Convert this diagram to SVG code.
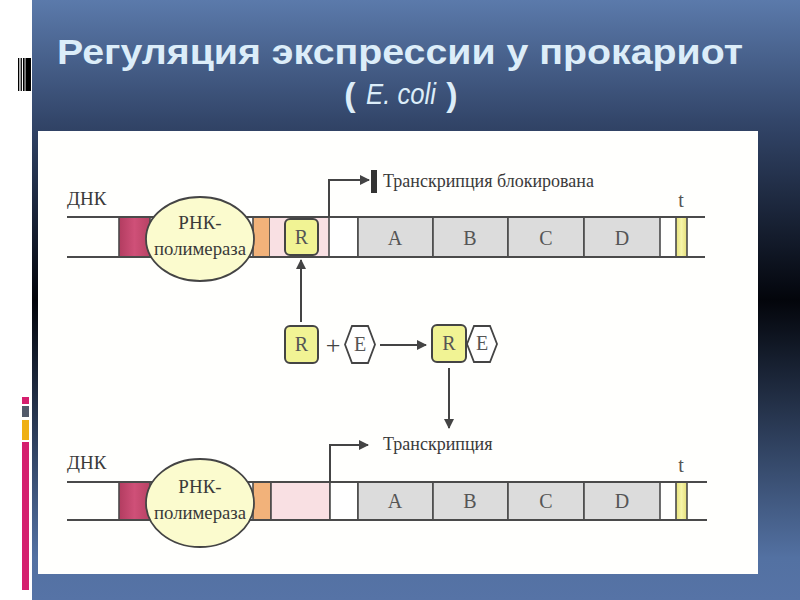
<svg xmlns="http://www.w3.org/2000/svg" width="800" height="600" viewBox="0 0 800 600">
<defs>
<linearGradient id="bg" x1="0" y1="0" x2="0" y2="1">
<stop offset="0" stop-color="#5b7aab"/>
<stop offset="0.2" stop-color="#33466a"/>
<stop offset="0.5" stop-color="#03050b"/>
<stop offset="0.93" stop-color="#5371a2"/>
<stop offset="1" stop-color="#5673a6"/>
</linearGradient>
<linearGradient id="mag" x1="0" y1="0" x2="1" y2="0">
<stop offset="0" stop-color="#b23c60"/>
<stop offset="0.5" stop-color="#cf5078"/>
<stop offset="1" stop-color="#b84264"/>
</linearGradient>
<linearGradient id="tY" x1="0" y1="0" x2="1" y2="0">
<stop offset="0" stop-color="#e8e47a"/>
<stop offset="0.5" stop-color="#f6f4a8"/>
<stop offset="1" stop-color="#e4de78"/>
</linearGradient>
<marker id="arrB" viewBox="0 0 10 10" refX="9" refY="5" markerWidth="10" markerHeight="10" markerUnits="userSpaceOnUse" orient="auto">
<path d="M0,0 L10,5 L0,10 z" fill="#444"/>
</marker>
</defs>
<style>
.ln{stroke:#4a4a4a;stroke-width:2;fill:none}
.bx{stroke:#4a4a4a;stroke-width:1.6}
.gene{fill:#dcdcdc;stroke:#4a4a4a;stroke-width:1.6}
.lab{font-family:"Liberation Serif","DejaVu Serif",serif;fill:#3a3a3a;font-size:18px}
.dnk{font-family:"Liberation Serif","DejaVu Serif",serif;fill:#3a3a3a;font-size:19px}
.glab{font-family:"Liberation Serif","DejaVu Serif",serif;fill:#555;font-size:20px;text-anchor:middle}
.plus{font-family:"Liberation Serif","DejaVu Serif",serif;fill:#444;font-size:26px;text-anchor:middle}
.plab{font-family:"Liberation Serif","DejaVu Serif",serif;fill:#3a3a3a;font-size:19px;text-anchor:middle}
.ell{fill:#fbfbce;stroke:#444;stroke-width:1.8}
.rbox{fill:#f1f394;stroke:#444;stroke-width:2}
.hex{fill:#ffffff;stroke:#444;stroke-width:1.8}
.con{stroke:#444;stroke-width:2;fill:none}
.title{font-family:"Liberation Sans","Arial",sans-serif;font-weight:bold;fill:#dcedf9}
</style>

<rect x="0" y="0" width="800" height="600" fill="#ffffff"/>
<rect x="32" y="0" width="768" height="600" fill="url(#bg)"/>
<rect x="38" y="131" width="720" height="443" fill="#fffffd"/>

<g id="decor">
<rect x="18" y="58" width="1.3" height="33" fill="#000"/>
<rect x="20.6" y="58" width="1.3" height="33" fill="#000"/>
<rect x="23" y="58" width="1.6" height="33" fill="#000"/>
<rect x="25.5" y="58" width="5.5" height="33" fill="#000"/>
<rect x="22" y="397" width="7" height="7" fill="#d51f6e"/>
<rect x="22" y="406" width="7" height="11" fill="#525a6a"/>
<rect x="22" y="420" width="7" height="20" fill="#efb012"/>
<rect x="22" y="442" width="7" height="148" fill="#d51f6e"/>
</g>

<g id="title">
<text class="title" x="400" y="64" font-size="35" text-anchor="middle" textLength="686" lengthAdjust="spacingAndGlyphs">Регуляция экспрессии у прокариот</text>
<text class="title" x="350" y="106" font-size="34" text-anchor="middle">(</text>
<text x="401" y="104" font-family="'Liberation Sans',Arial,sans-serif" font-style="italic" font-size="30" fill="#dcedf9" text-anchor="middle" textLength="70" lengthAdjust="spacingAndGlyphs">E. coli</text>
<text class="title" x="452" y="106" font-size="34" text-anchor="middle">)</text>
</g>

<g id="dna-top">
<text class="dnk" x="67" y="205">ДНК</text>
<rect x="119" y="217" width="31" height="40" fill="url(#mag)" class="bx"/>
<rect x="253" y="217" width="17" height="40" fill="#f2b27a" class="bx"/>
<rect x="270" y="217" width="59" height="40" fill="#f9e0e3" stroke="none"/>
<rect x="329" y="217" width="29" height="40" fill="#ffffff" class="bx"/>
<rect x="358" y="217" width="75" height="40" class="gene"/>
<rect x="433" y="217" width="75" height="40" class="gene"/>
<rect x="508" y="217" width="76" height="40" class="gene"/>
<rect x="584" y="217" width="76" height="40" class="gene"/>
<rect x="676" y="217" width="11" height="40" fill="url(#tY)" class="bx"/>
<line class="ln" x1="67" y1="217" x2="705" y2="217"/>
<line class="ln" x1="67" y1="257" x2="705" y2="257"/>
<text class="glab" x="395" y="245">A</text>
<text class="glab" x="470" y="245">B</text>
<text class="glab" x="546" y="245">C</text>
<text class="glab" x="622" y="245">D</text>
<text class="glab" x="681" y="207">t</text>
<rect x="371" y="170" width="6" height="23" fill="#333"/>
<text class="lab" x="383" y="187">Транскрипция блокирована</text>
</g>

<g id="polymerase-top">
<ellipse class="ell" cx="200" cy="239" rx="54" ry="42"/>
<text class="plab" x="200" y="229">РНК-</text>
<text class="plab" x="200" y="255" textLength="92" lengthAdjust="spacingAndGlyphs">полимераза</text>
</g>

<g id="repressor-bound">
<rect class="rbox" x="285" y="219" width="33" height="36" rx="5"/>
<text class="glab" x="301.5" y="244">R</text>
</g>

<g id="repressor">
<rect class="rbox" x="285" y="326" width="33" height="37" rx="5"/>
<text class="glab" x="301.5" y="351">R</text>
</g>
<text class="plus" x="333" y="354">+</text>
<g id="effector">
<polygon class="hex" points="345,344.5 352,326 368,326 375,344.5 368,363 352,363"/>
<text class="glab" x="360" y="351">E</text>
</g>

<g id="complex">
<rect class="rbox" x="432" y="325" width="34" height="37" rx="5"/>
<text class="glab" x="449" y="350">R</text>
<polygon class="hex" points="467,344 474,326 490,326 497,344 490,362 474,362"/>
<text class="glab" x="482" y="350">E</text>
</g>

<g id="dna-bottom">
<text class="dnk" x="67" y="469">ДНК</text>
<rect x="119" y="482" width="31" height="38" fill="url(#mag)" class="bx"/>
<rect x="253" y="482" width="18" height="38" fill="#f2b27a" class="bx"/>
<rect x="271" y="482" width="59" height="38" fill="#f9e0e3" class="bx"/>
<rect x="330" y="482" width="28" height="38" fill="#ffffff" class="bx"/>
<rect x="358" y="482" width="75" height="38" class="gene"/>
<rect x="433" y="482" width="75" height="38" class="gene"/>
<rect x="508" y="482" width="76" height="38" class="gene"/>
<rect x="584" y="482" width="76" height="38" class="gene"/>
<rect x="676" y="482" width="11" height="38" fill="url(#tY)" class="bx"/>
<line class="ln" x1="67" y1="482" x2="707" y2="482"/>
<line class="ln" x1="67" y1="520" x2="707" y2="520"/>
<text class="glab" x="395" y="508">A</text>
<text class="glab" x="470" y="508">B</text>
<text class="glab" x="546" y="508">C</text>
<text class="glab" x="622" y="508">D</text>
<text class="glab" x="681" y="472">t</text>
<text class="lab" x="383" y="450">Транскрипция</text>
</g>

<g id="polymerase-bottom">
<ellipse class="ell" cx="200" cy="503" rx="54" ry="44"/>
<text class="plab" x="200" y="493">РНК-</text>
<text class="plab" x="200" y="519" textLength="92" lengthAdjust="spacingAndGlyphs">полимераза</text>
</g>

<g id="connectors">
<path class="con" d="M329,217 V180 H369" marker-end="url(#arrB)"/>
<path class="con" d="M330,482 V445 H368" marker-end="url(#arrB)"/>
<line class="con" x1="301" y1="322" x2="301" y2="260" marker-end="url(#arrB)"/>
<line class="con" x1="380" y1="345" x2="426" y2="345" marker-end="url(#arrB)"/>
<line class="con" x1="449" y1="368" x2="449" y2="428" marker-end="url(#arrB)"/>
</g>
</svg>
